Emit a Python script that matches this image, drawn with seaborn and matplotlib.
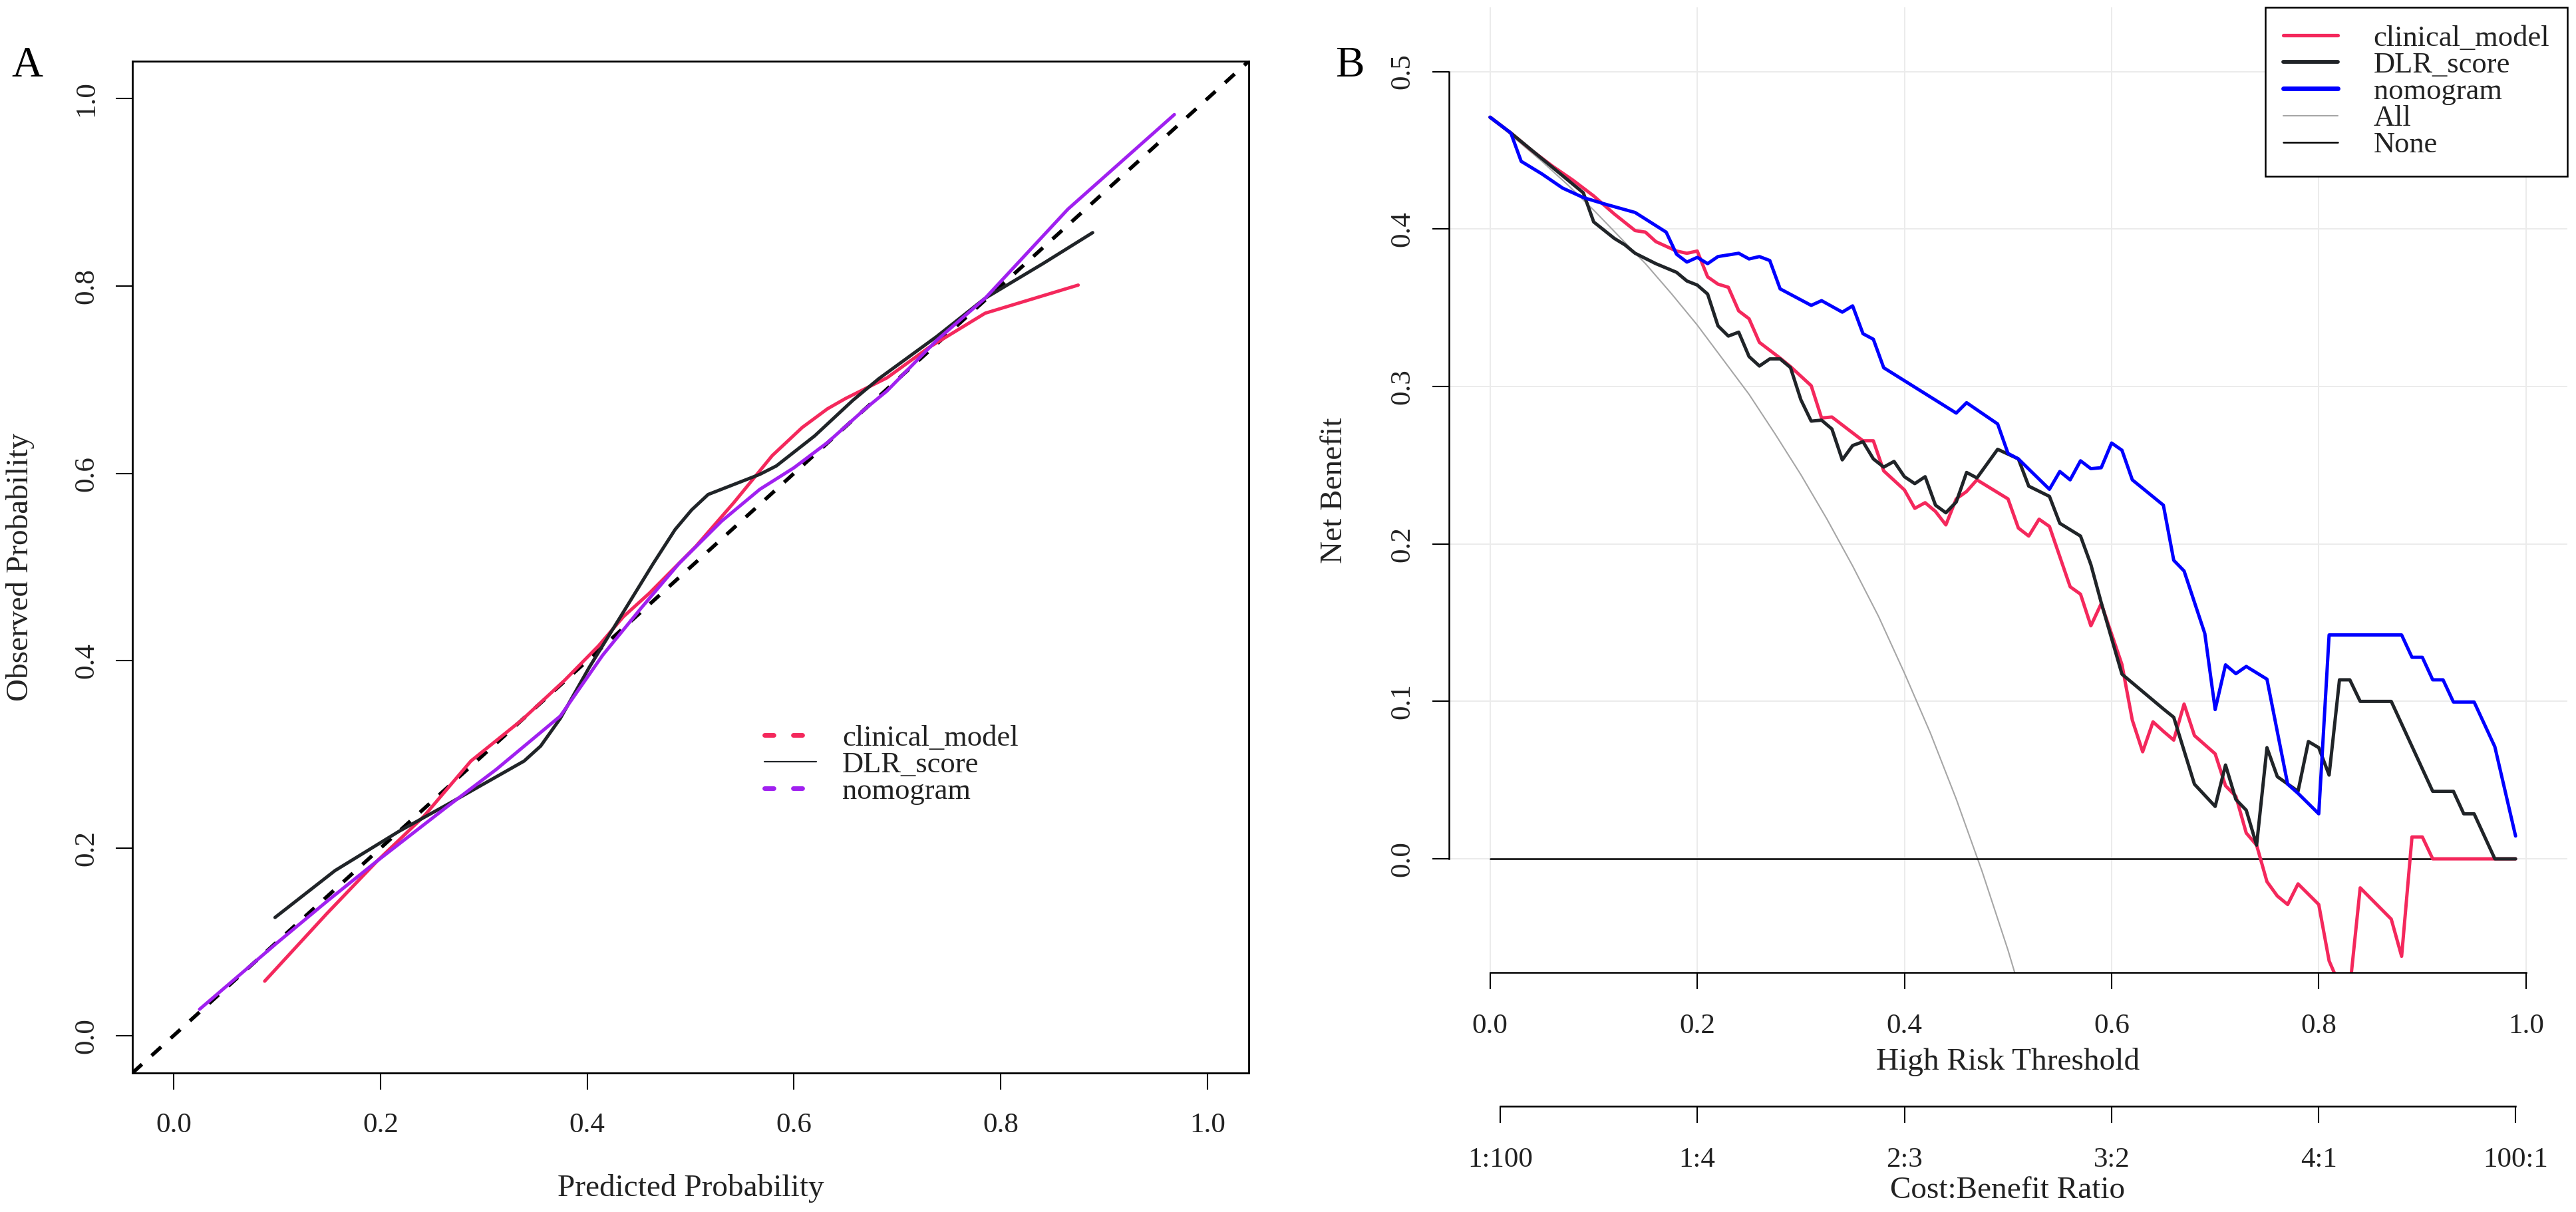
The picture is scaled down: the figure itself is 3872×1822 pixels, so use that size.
import numpy as np
import pandas as pd
import matplotlib
matplotlib.use("Agg")
import matplotlib.pyplot as plt
import seaborn as sns
from matplotlib.lines import Line2D

sns.set_theme(style="white")
plt.rcParams['font.family'] = ['Liberation Serif', 'DejaVu Serif']

# ---- colours
RED = '#F4285C'
DARK = '#202428'
BLUE = '#0000FF'
PURPLE = '#A020F0'
GREY = '#A6A6A6'

# ---- panel A: calibration curves (predicted vs observed)
clin_pred = [0.088, 0.148, 0.197, 0.242, 0.2875, 0.337, 0.378, 0.411, 0.435, 0.460, 0.505,
             0.542, 0.579, 0.608, 0.6325, 0.650, 0.690, 0.730, 0.785, 0.833, 0.875]
clin_obs = [0.058, 0.130, 0.1865, 0.234, 0.293, 0.337, 0.379, 0.416, 0.447, 0.472, 0.522,
            0.569, 0.619, 0.649, 0.669, 0.680, 0.702, 0.734, 0.771, 0.787, 0.801]

dlr_pred = [0.098, 0.156, 0.218, 0.267, 0.339, 0.355, 0.374, 0.402, 0.435, 0.464, 0.485,
            0.501, 0.517, 0.567, 0.583, 0.620, 0.657, 0.682, 0.738, 0.785, 0.841, 0.889]
dlr_obs = [0.126, 0.176, 0.218, 0.248, 0.293, 0.309, 0.3385, 0.393, 0.452, 0.504, 0.540,
           0.561, 0.5775, 0.599, 0.608, 0.640, 0.678, 0.701, 0.746, 0.787, 0.824, 0.857]

nomo_pred = [0.025, 0.099, 0.148, 0.197, 0.263, 0.312, 0.374, 0.415, 0.452, 0.489, 0.530,
             0.567, 0.600, 0.6325, 0.669, 0.690, 0.738, 0.785, 0.865, 0.968]
nomo_obs = [0.028, 0.098, 0.143, 0.1865, 0.243, 0.284, 0.341, 0.406, 0.456, 0.504, 0.549,
            0.583, 0.606, 0.633, 0.669, 0.688, 0.742, 0.787, 0.882, 0.983]

cal_ticks = [0.0, 0.2, 0.4, 0.6, 0.8, 1.0]

# ---- panel B: decision curves
clin_thr = [0.00, 0.02, 0.04, 0.06, 0.08, 0.10, 0.12, 0.14, 0.15, 0.16, 0.18, 0.19, 0.20,
            0.21, 0.22, 0.23, 0.24, 0.25, 0.26, 0.28, 0.29, 0.31, 0.32, 0.33, 0.36, 0.37,
            0.38, 0.40, 0.41, 0.42, 0.43, 0.44, 0.45, 0.46, 0.47, 0.50, 0.51, 0.52, 0.53,
            0.54, 0.56, 0.57, 0.58, 0.59, 0.61, 0.62, 0.63, 0.64, 0.65, 0.66, 0.67, 0.68,
            0.70, 0.71, 0.72, 0.73, 0.74, 0.75, 0.76, 0.77, 0.78, 0.80, 0.81, 0.82, 0.83,
            0.84, 0.87, 0.88, 0.89, 0.90, 0.91, 0.99]
clin_nb = [0.471, 0.461, 0.450, 0.440, 0.431, 0.421, 0.4095, 0.399, 0.398, 0.392, 0.386,
           0.3846, 0.386, 0.3696, 0.365, 0.363, 0.348, 0.343, 0.328, 0.318, 0.3126, 0.3005,
           0.280, 0.2806, 0.2655, 0.2655, 0.2464, 0.2343, 0.2226, 0.2262, 0.2206, 0.2121,
           0.2286, 0.2333, 0.2407, 0.2286, 0.2101, 0.205, 0.2157, 0.2111, 0.1728, 0.1681,
           0.148, 0.1621, 0.1234, 0.0881, 0.068, 0.087, 0.081, 0.0754, 0.0983, 0.0783,
           0.0667, 0.0464, 0.0397, 0.0164, 0.0087, -0.0145, -0.0236, -0.029, -0.0159,
           -0.029, -0.0648, -0.080, -0.082, -0.0184, -0.0383, -0.0619, 0.0139, 0.0139,
           0.0, 0.0]

dlr_thr = [0.00, 0.02, 0.09, 0.10, 0.12, 0.13, 0.14, 0.16, 0.18, 0.19, 0.20, 0.21, 0.22,
           0.23, 0.24, 0.25, 0.26, 0.27, 0.28, 0.29, 0.30, 0.31, 0.32, 0.33, 0.34, 0.35,
           0.36, 0.37, 0.38, 0.39, 0.40, 0.41, 0.42, 0.43, 0.44, 0.45, 0.46, 0.47, 0.49,
           0.51, 0.52, 0.54, 0.55, 0.57, 0.58, 0.59, 0.61, 0.65, 0.66, 0.68, 0.70, 0.71,
           0.72, 0.73, 0.74, 0.75, 0.76, 0.78, 0.79, 0.80, 0.81, 0.82, 0.83, 0.84, 0.87,
           0.91, 0.93, 0.94, 0.95, 0.97, 0.99]
dlr_nb = [0.471, 0.461, 0.423, 0.4045, 0.394, 0.390, 0.3846, 0.378, 0.3725, 0.367, 0.3644,
          0.3587, 0.3385, 0.332, 0.3345, 0.319, 0.313, 0.3175, 0.3175, 0.312, 0.2916, 0.278,
          0.2786, 0.273, 0.2534, 0.2625, 0.2649, 0.254, 0.2488, 0.2524, 0.2427, 0.2383,
          0.2427, 0.2246, 0.2198, 0.2266, 0.2454, 0.2419, 0.2601, 0.254, 0.2367, 0.2302,
          0.2131, 0.205, 0.1869, 0.1627, 0.1173, 0.0952, 0.0899, 0.0474, 0.0333, 0.0596,
          0.0377, 0.0309, 0.0087, 0.0706, 0.0522, 0.0429, 0.0745, 0.0706, 0.0532, 0.1137,
          0.1137, 0.100, 0.100, 0.0429, 0.0429, 0.0286, 0.0286, 0.0, 0.0]

nomo_thr = [0.00, 0.02, 0.03, 0.05, 0.07, 0.09, 0.11, 0.14, 0.17, 0.18, 0.19, 0.20, 0.21,
            0.22, 0.24, 0.25, 0.26, 0.27, 0.28, 0.31, 0.32, 0.34, 0.35, 0.36, 0.37, 0.38,
            0.45, 0.46, 0.49, 0.50, 0.51, 0.54, 0.55, 0.56, 0.57, 0.58, 0.59, 0.60, 0.61,
            0.62, 0.65, 0.66, 0.67, 0.69, 0.70, 0.71, 0.72, 0.73, 0.75, 0.77, 0.78, 0.80,
            0.81, 0.88, 0.89, 0.90, 0.91, 0.92, 0.93, 0.95, 0.97, 0.99]
nomo_nb = [0.471, 0.461, 0.443, 0.435, 0.426, 0.420, 0.416, 0.4105, 0.398, 0.384, 0.379,
           0.382, 0.378, 0.3825, 0.3846, 0.381, 0.3825, 0.380, 0.362, 0.3515, 0.3545,
           0.3472, 0.3512, 0.3335, 0.330, 0.3119, 0.2831, 0.2897, 0.2762, 0.2575, 0.254,
           0.2347, 0.246, 0.2407, 0.2528, 0.2478, 0.2484, 0.2641, 0.2595, 0.2407, 0.2246,
           0.1896, 0.1828, 0.1431, 0.0948, 0.1232, 0.1176, 0.1222, 0.1141, 0.0474, 0.0416,
           0.0286, 0.1422, 0.1422, 0.128, 0.128, 0.1137, 0.1137, 0.0996, 0.0996, 0.0712,
           0.0145]

all_thr = [0.0, 0.025, 0.05, 0.075, 0.10, 0.125, 0.15, 0.175, 0.20, 0.225, 0.25, 0.275,
           0.30, 0.325, 0.35, 0.375, 0.40, 0.425, 0.45, 0.475, 0.50, 0.51]
all_nb = [0.471, 0.457, 0.443, 0.428, 0.412, 0.395, 0.378, 0.359, 0.339, 0.317, 0.295,
          0.270, 0.244, 0.216, 0.186, 0.154, 0.118, 0.080, 0.038, -0.008, -0.058, -0.080]

none_thr = [0.0, 0.99]
none_nb = [0.0, 0.0]

dca_xticks = [0.0, 0.2, 0.4, 0.6, 0.8, 1.0]
dca_yticks = [0.0, 0.1, 0.2, 0.3, 0.4, 0.5]
cb_thr = [0.0099, 0.2, 0.4, 0.6, 0.8, 0.9901]
cb_labels = ['1:100', '1:4', '2:3', '3:2', '4:1', '100:1']

# ---- figure geometry (pixels of the 3872 x 1822 canvas)
W, H = 3872, 1822
fig = plt.figure(figsize=(W / 100, H / 100), dpi=100)
axA = fig.add_axes([199 / W, 1 - 1613 / H, 1678 / W, 1521 / H])
axB = fig.add_axes([2177.5 / W, 1 - 1462 / H, 1681.5 / W, 1451 / H])

TICK_FS = 31
LAB_FS = 34
LEG_FS = 32

# ================= panel A
axA.axline((0, 0), slope=1, color='black', lw=4, ls=(0, (3.5, 3.5)), zorder=1)
sns.lineplot(x=clin_pred, y=clin_obs, ax=axA, color=RED, lw=3.6, sort=False, estimator=None)
sns.lineplot(x=dlr_pred, y=dlr_obs, ax=axA, color=DARK, lw=3.6, sort=False, estimator=None)
sns.lineplot(x=nomo_pred, y=nomo_obs, ax=axA, color=PURPLE, lw=3.6, sort=False, estimator=None)

axA.set_xlim(-0.04, 1.04)
axA.set_ylim(-0.04, 1.04)
axA.set_xticks(cal_ticks, [f'{t:.1f}' for t in cal_ticks])
axA.set_yticks(cal_ticks, [f'{t:.1f}' for t in cal_ticks])
axA.set_xlabel('')
axA.set_ylabel('')
for s in axA.spines.values():
    s.set_color('black')
    s.set_linewidth(2)
axA.tick_params(axis='both', direction='out', length=18, width=1.5, color='black',
                labelsize=TICK_FS, labelcolor='#222222', bottom=True, left=True)
axA.tick_params(axis='x', pad=25)
axA.tick_params(axis='y', pad=18, labelrotation=90)
for lab in axA.get_yticklabels():
    lab.set_va('center')

legA_handles = [
    Line2D([], [], color=RED, lw=5, ls=(0, (2, 4.2)), dash_capstyle='round'),
    Line2D([], [], color=DARK, lw=1.6),
    Line2D([], [], color=PURPLE, lw=5, ls=(0, (2, 4.2)), dash_capstyle='round'),
]
axA.legend(legA_handles, ['clinical_model', 'DLR_score', 'nomogram'],
           loc='upper left', bbox_to_anchor=(0.5662, 0.3442), frameon=False,
           borderpad=0, borderaxespad=0, handlelength=1.75, handletextpad=0.88,
           labelspacing=0.0, fontsize=LEG_FS, labelcolor='#222222')

# ================= panel B
axB.grid(True, color='#EBEBEB', lw=1.4)
axB.set_axisbelow(True)
sns.lineplot(x=all_thr, y=all_nb, ax=axB, color=GREY, lw=1.5, sort=False, estimator=None)
sns.lineplot(x=none_thr, y=none_nb, ax=axB, color='black', lw=1.8, sort=False, estimator=None)
sns.lineplot(x=clin_thr, y=clin_nb, ax=axB, color=RED, lw=3.6, sort=False, estimator=None)
sns.lineplot(x=dlr_thr, y=dlr_nb, ax=axB, color=DARK, lw=3.6, sort=False, estimator=None)
sns.lineplot(x=nomo_thr, y=nomo_nb, ax=axB, color=BLUE, lw=3.6, sort=False, estimator=None)

axB.set_xlim(-0.04, 1.04)
axB.set_ylim(-0.0722, 0.5408)
axB.set_xticks(dca_xticks, [f'{t:.1f}' for t in dca_xticks])
axB.set_yticks(dca_yticks, [f'{t:.1f}' for t in dca_yticks])
axB.set_xlabel('')
axB.set_ylabel('')
axB.spines['top'].set_visible(False)
axB.spines['right'].set_visible(False)
axB.spines['left'].set_bounds(0, 0.5)
axB.spines['bottom'].set_bounds(0, 1)
for s in ('left', 'bottom'):
    axB.spines[s].set_color('black')
    axB.spines[s].set_linewidth(1.8)
axB.tick_params(axis='both', direction='out', length=18, width=1.5, color='black',
                labelsize=TICK_FS, labelcolor='#222222', bottom=True, left=True)
axB.tick_params(axis='x', pad=26)
axB.tick_params(axis='y', pad=18, labelrotation=90)
for lab in axB.get_yticklabels():
    lab.set_va('center')

# cost:benefit axis below the threshold axis
axC = axB.twiny()
axC.set_xlim(axB.get_xlim())
axC.xaxis.set_ticks_position('bottom')
axC.xaxis.set_label_position('bottom')
axC.spines['bottom'].set_position(('outward', 201 * 0.72))
for s in ('top', 'left', 'right'):
    axC.spines[s].set_visible(False)
axC.spines['bottom'].set_bounds(cb_thr[0], cb_thr[-1])
axC.spines['bottom'].set_color('black')
axC.spines['bottom'].set_linewidth(1.8)
axC.set_xticks(cb_thr, cb_labels)
axC.grid(False)
axC.tick_params(axis='x', direction='out', length=18, width=1.5, color='black',
                labelsize=TICK_FS, labelcolor='#222222', bottom=True, top=False, pad=26)

legB_handles = [
    Line2D([], [], color=RED, lw=3.8),
    Line2D([], [], color=DARK, lw=4.2),
    Line2D([], [], color=BLUE, lw=5),
    Line2D([], [], color=GREY, lw=1.5),
    Line2D([], [], color='black', lw=1.8),
]
legB = axB.legend(legB_handles, ['clinical_model', 'DLR_score', 'nomogram', 'All', 'None'],
                  loc='upper right', bbox_to_anchor=(1.0, 1.0), borderaxespad=0,
                  frameon=True, fancybox=False, edgecolor='black', framealpha=1,
                  borderpad=0.6, handlelength=1.85, handletextpad=1.2, labelspacing=0.0,
                  fontsize=LEG_FS, labelcolor='#222222')
legB.get_frame().set_linewidth(1.8)

# ================= text labels
def ftext(x, y, s, **kw):
    fig.text(x / W, 1 - y / H, s, color='#222222', **kw)

ftext(1038, 1787, 'Predicted Probability', fontsize=LAB_FS, ha='center', va='center')
ftext(31, 852, 'Observed Probability', fontsize=LAB_FS, ha='center', va='center', rotation=90)
ftext(2006, 737, 'Net Benefit', fontsize=LAB_FS, ha='center', va='center', rotation=90)
ftext(3018, 1597, 'High Risk Threshold', fontsize=LAB_FS, ha='center', va='center')
ftext(3018, 1790, 'Cost:Benefit Ratio', fontsize=LAB_FS, ha='center', va='center')

fig.text(17 / W, 1 - 115 / H, 'A', fontsize=47, ha='left', va='baseline', color='black')
fig.text(2007 / W, 1 - 115 / H, 'B', fontsize=47, ha='left', va='baseline', color='black')

fig.savefig('out.png', dpi=100)
